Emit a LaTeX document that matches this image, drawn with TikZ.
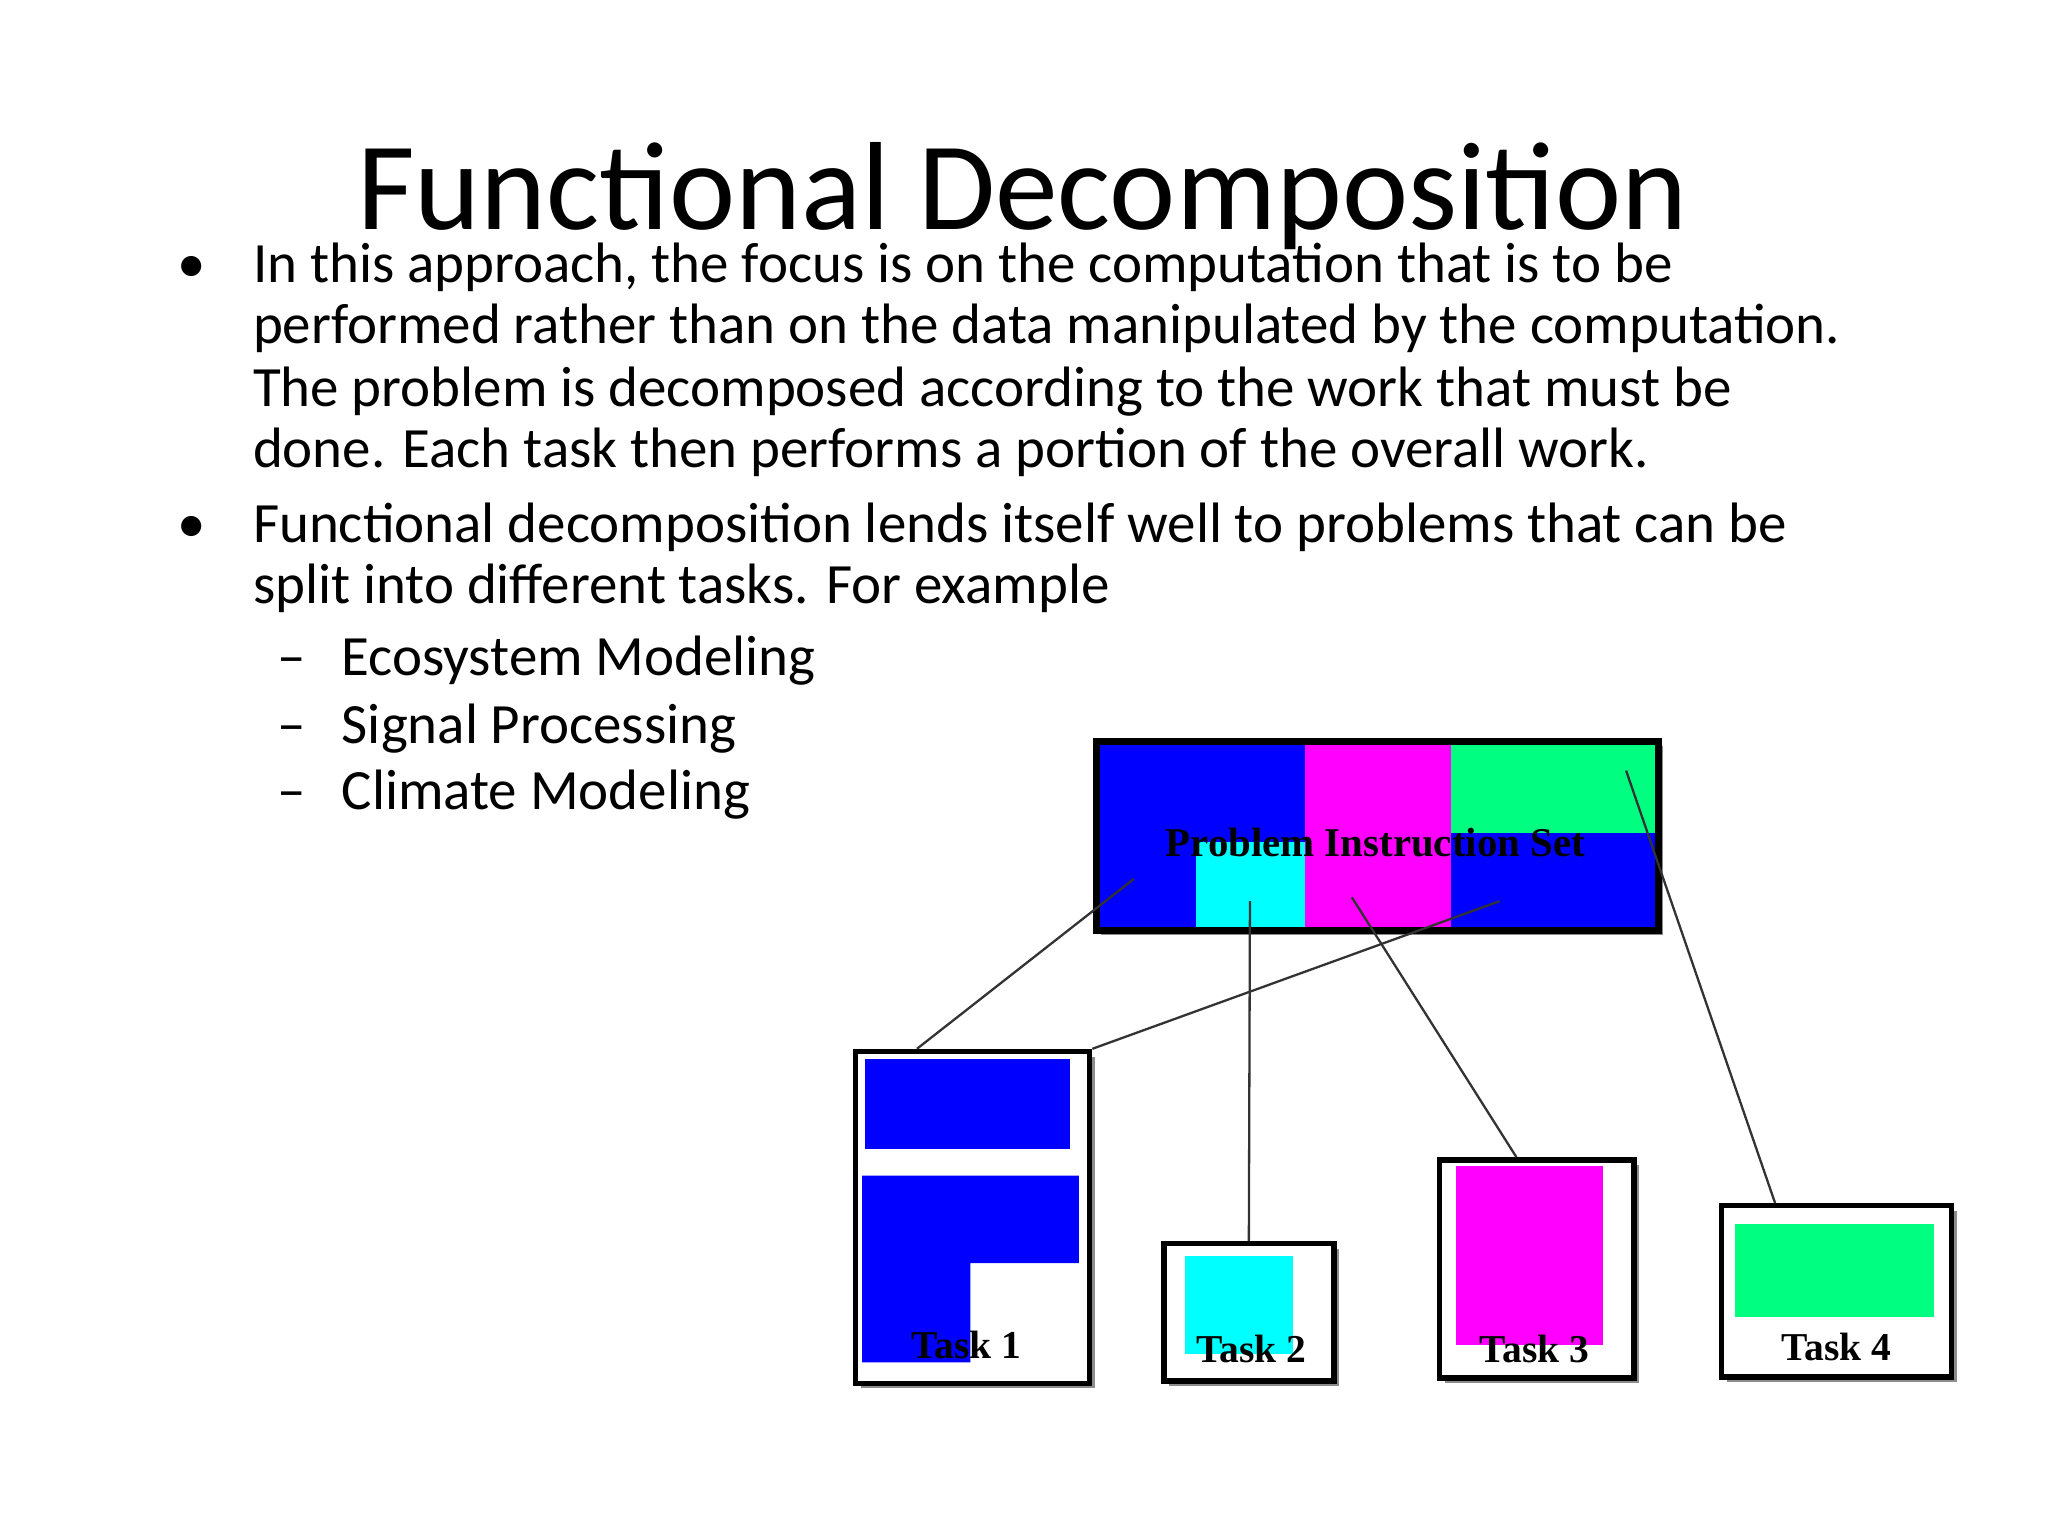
\documentclass[tikz,border=0pt]{standalone}
\usepackage{fontspec}
\setmainfont{Carlito}
\newfontfamily\taskfont{Liberation Serif}
\usetikzlibrary{positioning}
\definecolor{tblue}{RGB}{0,0,255}
\definecolor{tcyan}{RGB}{0,255,255}
\definecolor{tmag}{RGB}{255,0,255}
\definecolor{tgreen}{RGB}{0,255,128}
\tikzset{
  body/.style={anchor=base west, inner sep=0pt, font=\fontsize{12.4}{14}\selectfont},
  task/.style={draw=black, line width=1.2pt, fill=white, inner sep=0pt},
  tasklabel/.style={font=\taskfont\bfseries\fontsize{8.6}{10}\selectfont, inner sep=0pt},
  link/.style={draw=black!80, line width=0.5pt},
  shade/.style={fill=black!45}
}
\begin{document}
\begin{tikzpicture}[x=0.01cm, y=-0.01cm]
\useasboundingbox (0,0) rectangle (1568,1176);
% title and text
\node[inner sep=0pt, anchor=base, font=\fontsize{27.3}{30}\selectfont] (title) at (783,176) {Functional Decomposition};
\node[body] (b1) at (135,216) {\textbullet};
\node[body] (l1) at (193,216) {In this approach, the focus is on the computation that is to be};
\node[body] (l2) at (193,263) {performed rather than on the data manipulated by the computation.};
\node[body] (l3) at (193,311) {The problem is decomposed according to the work that must be};
\node[body] (l4) at (193,358) {done. Each task then performs a portion of the overall work.};
\node[body] (b2) at (135,415) {\textbullet};
\node[body] (l5) at (193,415) {Functional decomposition lends itself well to problems that can be};
\node[body] (l6) at (193,462) {split into different tasks. For example};
\node[body] (d1) at (212,517) {--};
\node[body] (s1) at (261,517) {Ecosystem Modeling};
\node[body] (d2) at (212,569) {--};
\node[body] (s2) at (261,569) {Signal Processing};
\node[body] (d3) at (212,620) {--};
\node[body] (s3) at (261,620) {Climate Modeling};

% problem box
\fill[shade] (843,571) rectangle (1273,716);
\fill[tblue] (837,565) rectangle (1267,710);
\fill[tmag] (999,565) rectangle (1111,710);
\fill[tgreen] (1111,565) rectangle (1267,638);
\fill[tcyan] (916,645) rectangle (999,710);
\node[draw=black, line width=1.5pt, minimum width=4.3cm, minimum height=1.45cm, anchor=north west] (prob) at (837,565) {};
\node[tasklabel, font=\taskfont\bfseries\fontsize{8.9}{10}\selectfont] (plabel) at (1053,645) {Problem Instruction Set};
\coordinate (p1) at (868,673);
\coordinate (p2) at (1148,690);
\coordinate (p3) at (957,690);
\coordinate (p4) at (1035,687);
\coordinate (p5) at (1245,590);

% tasks
\fill[shade] (659,809) rectangle (838,1063);
\node[task, minimum width=1.79cm, minimum height=2.54cm, anchor=north west] (task1) at (653,803) {};
\fill[tblue] (662,811) rectangle (819,880);
\fill[tblue] (660,900) -- (826,900) -- (826,967) -- (743,967) -- (743,1043) -- (660,1043) -- cycle;
\node[tasklabel] (t1) at (740,1030) {Task 1};

\fill[shade] (895,956) rectangle (1025,1061);
\node[task, minimum width=1.30cm, minimum height=1.05cm, anchor=north west] (task2) at (889,950) {};
\fill[tcyan] (907,962) rectangle (990,1037);
\node[tasklabel] (t2) at (958,1033) {Task 2};

\fill[shade] (1106,892) rectangle (1255,1059);
\node[task, minimum width=1.49cm, minimum height=1.67cm, anchor=north west] (task3) at (1100,886) {};
\fill[tmag] (1115,893) rectangle (1227,1030);
\node[tasklabel] (t3) at (1175,1033) {Task 3};

\fill[shade] (1322,927) rectangle (1498,1058);
\node[task, minimum width=1.76cm, minimum height=1.31cm, anchor=north west] (task4) at (1316,921) {};
\fill[tgreen] (1328,937) rectangle (1481,1008);
\node[tasklabel] (t4) at (1406,1031) {Task 4};

% links
\draw[link] (p1) -- ([xshift=0.49cm] task1.north west);
\draw[link] (p2) -- (task1.north east);
\draw[link] (p3) -- (task2.north);
\draw[link] (p4) -- ([xshift=0.61cm] task3.north west);
\draw[link] (p5) -- ([xshift=0.43cm] task4.north west);
\end{tikzpicture}
\end{document}
